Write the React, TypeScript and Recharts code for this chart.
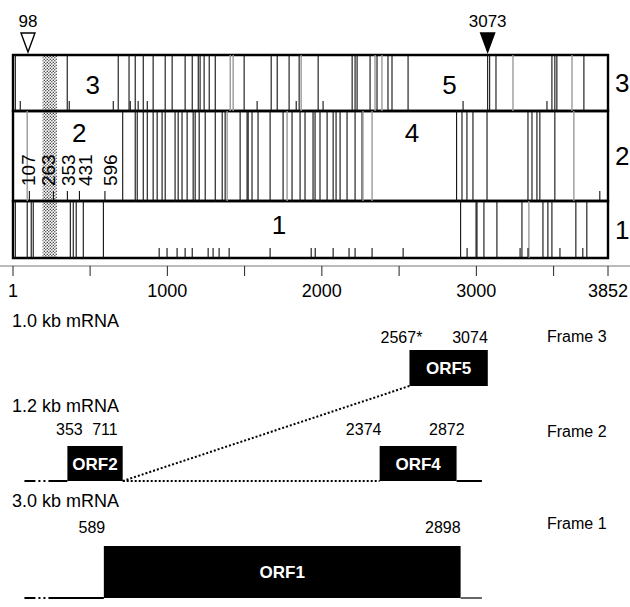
import React from 'react';
import {
  ComposedChart,
  XAxis,
  YAxis,
  Scatter,
  ReferenceLine,
  ReferenceArea,
  ReferenceDot,
} from 'recharts';

const FONT = '"Liberation Sans", Arial, Helvetica, sans-serif';

// ---------- sequence map ----------
const seqLength = 3852;
const axisTicks = [1, 500, 1000, 1500, 2000, 2500, 3000, 3500, 3852];
const axisLabels = [1, 1000, 2000, 3000, 3852];

// stop codons (full lines), faint stops (grey lines), ATG codons (short ticks)
const frame1Stops = [16, 93, 119, 132, 372, 391, 410, 456, 586, 2898, 2998, 3004, 3049, 3133, 3295, 3431, 3463, 3489, 3644, 3715];
const frame1Faint = [3340];
const frame1Atg = [947, 998, 1063, 1115, 1161, 1264, 1296, 1335, 1400, 1665, 1931, 1957, 2073, 2176, 2215, 2325, 2526, 2940, 3283, 3334, 3541, 3689];

const frame2Stops = [711, 792, 805, 844, 870, 908, 934, 966, 986, 1050, 1070, 1095, 1128, 1167, 1180, 1206, 1245, 1310, 1355, 1374, 1471, 1516, 1523, 1548, 1587, 1665, 1749, 1807, 1859, 1891, 1943, 1956, 1988, 2034, 2073, 2092, 2118, 2163, 2215, 2260, 2872, 2907, 2939, 2978, 3069, 3334, 3360, 3392, 3411, 3508];
const frame2Faint = [93, 1387, 1775, 2266, 2325, 3631];
const frame2Atg = [107, 263, 353, 431, 596, 3799];
const frame2AtgLabels = [107, 263, 353, 431, 596];

const frame3Stops = [16, 352, 682, 752, 792, 844, 908, 986, 1031, 1115, 1161, 1200, 1212, 1238, 1271, 1310, 1497, 1672, 1711, 1788, 1853, 1976, 2196, 2215, 2228, 2312, 2357, 2428, 2454, 2558, 3073, 3086, 3127, 3489, 3508, 3521, 3696];
const frame3Faint = [1407, 1426, 1866, 2344, 2389, 3237, 3619];
const frame3Atg = [48, 365, 650, 760, 811, 870, 1581, 1834, 2008, 2914, 3457];

const stippleFrom = 192;
const stippleTo = 285;

const markerPos = [98, 3073];
const markerFilled = [false, true];

const regionLabels = ['1', '2', '3', '4', '5'];
const regionFrames = [1, 2, 3, 2, 3];
const regionCenters = [1723, 430, 517, 2584, 2826];

// ---------- transcripts ----------
const orfNames = ['ORF1', 'ORF2', 'ORF4', 'ORF5'];
const orfFrames = [1, 2, 2, 3];
const orfStarts = [589, 353, 2374, 2567];
const orfEnds = [2898, 711, 2872, 3074];
const orfStartText = ['589', '353', '2374', '2567*'];
const mrnaNames = ['1.0 kb mRNA', '1.2 kb mRNA', '3.0 kb mRNA'];
const mrnaFrames = [3, 2, 1];
const transcriptFrom = 75;
const transcriptTo = 3036;

// ---------- layout ----------
const W = 630;
const TOP_H = 312;
const AXIS_H = 46; // keeps the axis line at y=266
const LOW_TOP = 300;
const LOW_H = 307;
const BAND: Record<number, [number, number]> = { 3: [55, 111], 2: [111, 201], 1: [201, 258] };
const REGION_Y: Record<number, number> = { 3: 85, 2: 133, 1: 225 };
const ATG_LEN = 10;
const ATG_LABEL_DX = [-1, -5, 1, 6, 5];
const MARK_Y = 52;
const ROW: Record<number, { cap: number; num: number; top: number; bot: number; frame: number }> = {
  3: { cap: 321, num: 337, top: 350, bot: 386, frame: 337 },
  2: { cap: 406, num: 429, top: 446, bot: 481, frame: 432 },
  1: { cap: 501, num: 527, top: 546, bot: 598, frame: 524 },
};
const START_DX = [-12, 2, -16, -8];
const END_DX = [0, -5, 8, 0];

const codonMarks = [
  ...[
    [1, frame1Stops, frame1Faint, frame1Atg],
    [2, frame2Stops, frame2Faint, frame2Atg],
    [3, frame3Stops, frame3Faint, frame3Atg],
  ].flatMap(([f, stops, faint, atg]: any) => [
    ...stops.map((p: number) => ({ frame: f, pos: p, kind: 'stop' })),
    ...faint.map((p: number) => ({ frame: f, pos: p, kind: 'faint' })),
    ...atg.map((p: number) => ({ frame: f, pos: p, kind: 'atg' })),
  ]),
];

const markerData = markerPos.map((p, i) => ({ pos: p, y: MARK_Y, filled: markerFilled[i] }));

const edgeLabels = orfNames.flatMap((_, i) => [
  { pos: orfStarts[i], y: ROW[orfFrames[i]].num, text: orfStartText[i], anchor: 'middle', dx: START_DX[i] },
  { pos: orfEnds[i], y: ROW[orfFrames[i]].num, text: String(orfEnds[i]), anchor: 'end', dx: END_DX[i] },
]);

const Marker = (props: any) => {
  const { cx, cy, payload } = props;
  return (
    <g>
      <polygon
        points={`${cx - 7},${cy - 19} ${cx + 7},${cy - 19} ${cx},${cy}`}
        fill={payload.filled ? '#000' : '#fff'}
        stroke="#000"
        strokeWidth={1.4}
      />
      <text x={cx} y={cy - 25} textAnchor="middle" fontSize={17} fontFamily={FONT} fill="#000">
        {payload.pos}
      </text>
    </g>
  );
};

const EdgeText = (props: any) => {
  const { cx, cy, payload } = props;
  return (
    <text x={cx + payload.dx} y={cy} dy="0.36em" textAnchor={payload.anchor} fontSize={16} fontFamily={FONT} fill="#000">
      {payload.text}
    </text>
  );
};

const Caption = ({ x, y, size, children }: any) => (
  <div
    style={{
      position: 'absolute',
      left: x,
      top: y,
      transform: 'translateY(-50%)',
      fontFamily: FONT,
      fontSize: size,
      lineHeight: 1,
      whiteSpace: 'nowrap',
      color: '#000',
    }}
  >
    {children}
  </div>
);

export default function App() {
  return (
    <div style={{ position: 'absolute', left: 0, top: 0, width: W, height: 607, background: '#fff', overflow: 'hidden' }}>
      <div style={{ position: 'absolute', left: 0, top: LOW_TOP }}>
        <ComposedChart width={W} height={LOW_H} margin={{ top: 0, right: 0, bottom: 0, left: 0 }}>
          <XAxis
            dataKey="pos"
            type="number"
            domain={[1, seqLength]}
            padding={{ left: 13, right: 22 }}
            hide
            allowDataOverflow
          />
          <YAxis dataKey="y" type="number" domain={[LOW_TOP, LOW_TOP + LOW_H]} reversed hide allowDataOverflow />
          {/* frame 2 transcript */}
          <ReferenceLine
            segment={[{ x: transcriptFrom, y: ROW[2].bot }, { x: orfStarts[1], y: ROW[2].bot }]}
            stroke="#000"
            strokeWidth={2}
            strokeDasharray="11 3 2 3 2 3 400"
          />
          <ReferenceLine
            segment={[{ x: orfEnds[1], y: ROW[2].bot }, { x: orfStarts[2], y: ROW[2].bot }]}
            stroke="#000"
            strokeWidth={2}
            strokeDasharray="2 2"
          />
          <ReferenceLine
            segment={[{ x: orfEnds[2], y: ROW[2].bot }, { x: transcriptTo, y: ROW[2].bot }]}
            stroke="#000"
            strokeWidth={2}
          />
          <ReferenceLine
            segment={[{ x: orfEnds[1], y: ROW[2].bot }, { x: orfStarts[3], y: ROW[3].bot }]}
            stroke="#000"
            strokeWidth={2}
            strokeDasharray="2 2"
          />
          {/* frame 1 transcript */}
          <ReferenceLine
            segment={[{ x: transcriptFrom, y: ROW[1].bot }, { x: orfStarts[0], y: ROW[1].bot }]}
            stroke="#000"
            strokeWidth={2}
            strokeDasharray="11 3 2 3 2 3 400"
          />
          <ReferenceLine
            segment={[{ x: orfEnds[0], y: ROW[1].bot }, { x: transcriptTo, y: ROW[1].bot }]}
            stroke="#666"
            strokeWidth={2}
          />
          {orfNames.map((n, i) => (
            <ReferenceArea
              key={n}
              x1={orfStarts[i]}
              x2={orfEnds[i]}
              y1={ROW[orfFrames[i]].top}
              y2={ROW[orfFrames[i]].bot}
              fill="#000"
              fillOpacity={1}
              stroke="none"
              label={{ value: n, position: 'center', fill: '#fff', fontSize: 17, fontWeight: 700, fontFamily: FONT }}
            />
          ))}
          <Scatter data={edgeLabels} shape={<EdgeText />} isAnimationActive={false} />
        </ComposedChart>
      </div>

      <div style={{ position: 'absolute', left: 0, top: 0 }}>
        <ComposedChart width={W} height={TOP_H} margin={{ top: 0, right: 0, bottom: 0, left: 0 }}>
          <defs>
            <pattern id="stipple" width="3" height="3" patternUnits="userSpaceOnUse">
              <rect width="3" height="3" fill="#fff" />
              <circle cx="0.8" cy="0.8" r="0.75" fill="#444" />
              <circle cx="2.3" cy="2.3" r="0.75" fill="#444" />
            </pattern>
          </defs>
          <XAxis
            dataKey="pos"
            type="number"
            domain={[1, seqLength]}
            ticks={axisTicks}
            interval={0}
            padding={{ left: 13, right: 22 }}
            height={AXIS_H}
            tickSize={10}
            tickMargin={8}
            tickFormatter={(v) => (axisLabels.includes(v) ? String(v) : '')}
            tick={{ fontSize: 18, fill: '#000', fontFamily: FONT }}
            axisLine={{ stroke: '#777' }}
            tickLine={{ stroke: '#222' }}
            allowDataOverflow
          />
          <YAxis dataKey="y" type="number" domain={[0, 266]} reversed hide allowDataOverflow />
          <ReferenceArea
            x1={stippleFrom}
            x2={stippleTo}
            y1={BAND[3][0]}
            y2={BAND[1][1]}
            fill="url(#stipple)"
            fillOpacity={1}
            stroke="none"
          />
          {codonMarks.map((m, i) => {
            const [top, bot] = BAND[m.frame];
            return (
              <ReferenceLine
                key={`c${i}`}
                segment={[
                  { x: m.pos, y: bot },
                  { x: m.pos, y: m.kind === 'atg' ? bot - ATG_LEN : top },
                ]}
                stroke={m.kind === 'faint' ? '#9a9a9a' : '#111'}
                strokeWidth={m.kind === 'faint' ? 1.4 : 1.1}
              />
            );
          })}
          {[3, 2, 1].map((f) => (
            <ReferenceArea
              key={`b${f}`}
              x1={1}
              x2={seqLength}
              y1={BAND[f][0]}
              y2={BAND[f][1]}
              fill="none"
              fillOpacity={0}
              stroke="#000"
              strokeWidth={2.4}
            />
          ))}
          {regionLabels.map((r, i) => (
            <ReferenceDot
              key={`r${i}`}
              x={regionCenters[i]}
              y={REGION_Y[regionFrames[i]]}
              r={0}
              fill="none"
              stroke="none"
              label={{ value: r, position: 'center', fontSize: 26, fill: '#000', fontFamily: FONT }}
            />
          ))}
          {[3, 2, 1].map((f) => (
            <ReferenceDot
              key={`f${f}`}
              x={seqLength}
              y={(BAND[f][0] + BAND[f][1]) / 2}
              r={0}
              fill="none"
              stroke="none"
              label={{ value: String(f), position: 'right', offset: 7, fontSize: 26, fill: '#000', fontFamily: FONT }}
            />
          ))}
          {frame2AtgLabels.map((p, i) => (
            <ReferenceDot
              key={`a${p}`}
              x={p}
              y={186}
              r={0}
              fill="none"
              stroke="none"
              label={(lp: any) => {
                const x = lp.viewBox.x + ATG_LABEL_DX[i];
                const y = lp.viewBox.y;
                return (
                  <text
                    x={x}
                    y={y}
                    dy="0.36em"
                    transform={`rotate(-90 ${x} ${y})`}
                    fontSize={19}
                    fontFamily={FONT}
                    fill="#000"
                  >
                    {p}
                  </text>
                );
              }}
            />
          ))}
          <Scatter data={markerData} shape={<Marker />} isAnimationActive={false} />
        </ComposedChart>
      </div>

      {mrnaNames.map((m, i) => (
        <Caption key={m} x={12} y={ROW[mrnaFrames[i]].cap} size={18}>
          {m}
        </Caption>
      ))}
      {[3, 2, 1].map((f) => (
        <Caption key={`fr${f}`} x={547} y={ROW[f].frame} size={16}>
          {`Frame ${f}`}
        </Caption>
      ))}
    </div>
  );
}
